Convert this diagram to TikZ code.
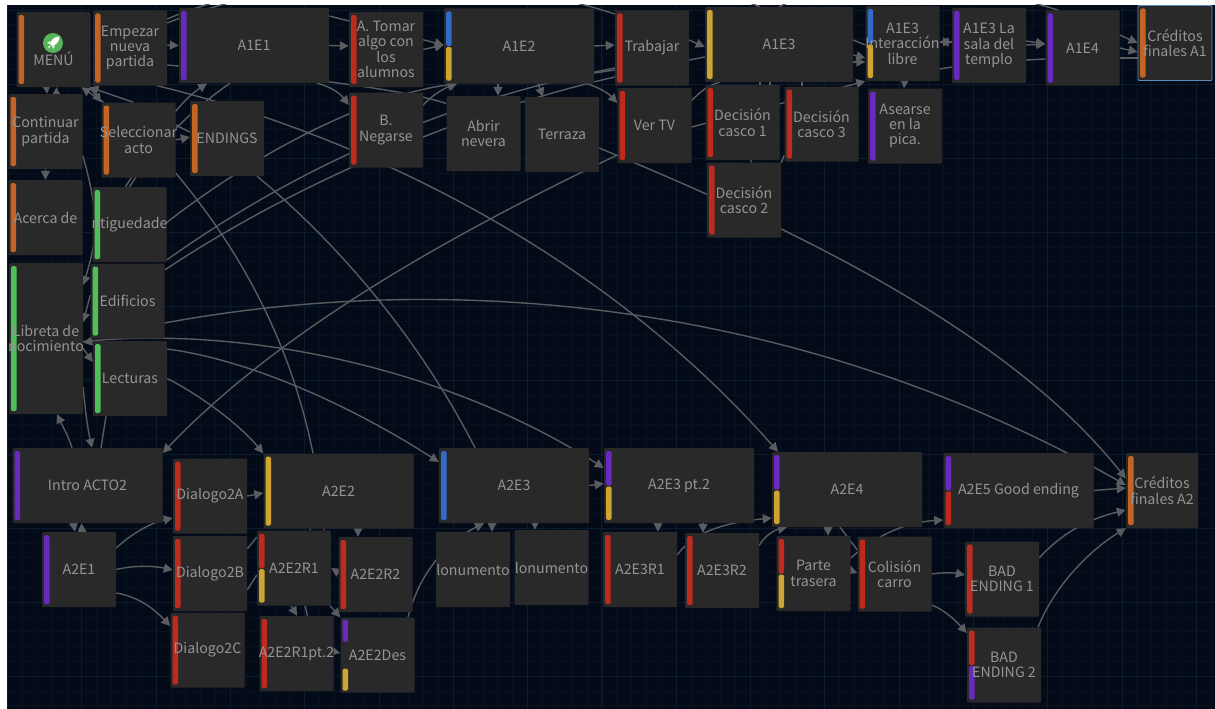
\documentclass[tikz,border=0pt]{standalone}
\usepackage{fontspec}
\setmainfont{Noto Sans CJK SC}
\usepackage{xcolor}
\usetikzlibrary{calc,arrows.meta}
\definecolor{canvasblue}{RGB}{3,11,24}
\definecolor{gridminor}{RGB}{7,17,32}
\definecolor{gridmajor}{RGB}{13,27,47}
\definecolor{boxgray}{RGB}{42,41,41}
\definecolor{labelgray}{RGB}{148,148,148}
\definecolor{edgegray}{RGB}{90,92,96}
\definecolor{myorange}{RGB}{196,100,34}
\definecolor{mypurple}{RGB}{104,42,190}
\definecolor{myred}{RGB}{190,42,30}
\definecolor{myyellow}{RGB}{205,165,48}
\definecolor{myblue}{RGB}{50,106,200}
\definecolor{mygreen}{RGB}{80,190,90}
\definecolor{iconspot}{RGB}{86,180,90}
\definecolor{selectblue}{RGB}{92,140,190}
\pgfdeclarelayer{gridlayer}
\pgfdeclarelayer{edgelayer}
\pgfsetlayers{gridlayer,edgelayer,main}
\newcommand{\ovr}[1]{\makebox[0pt][c]{#1}}
\tikzset{
  box/.style={rectangle, fill=boxgray, text=labelgray, rounded corners=1pt, inner sep=0pt,
    minimum width=74pt, minimum height=75pt, align=center, font=\fontsize{14.2}{15.4}\selectfont},
  wide/.style={box, minimum width=150pt},
  tall/.style={box, minimum height=151pt},
  onebar/.style={path picture={\fill[#1, rounded corners=1.5pt]
    ([xshift=2pt,yshift=-3pt]path picture bounding box.north west) rectangle
    ([xshift=7.5pt,yshift=3pt]path picture bounding box.south west);}},
  twobar/.style 2 args={path picture={
    \fill[#1, rounded corners=1.5pt]
      ([xshift=2pt,yshift=-3pt]path picture bounding box.north west) rectangle
      ([xshift=7.5pt]path picture bounding box.west);
    \fill[#2, rounded corners=1.5pt]
      ([xshift=2pt,yshift=-1pt]path picture bounding box.west) rectangle
      ([xshift=7.5pt,yshift=3pt]path picture bounding box.south west);}},
  gapbar/.style 2 args={path picture={
    \fill[#1, rounded corners=1.5pt]
      ([xshift=2pt,yshift=-2pt]path picture bounding box.north west) rectangle
      ([xshift=7.5pt,yshift=-24pt]path picture bounding box.north west);
    \fill[#2, rounded corners=1.5pt]
      ([xshift=2pt,yshift=24pt]path picture bounding box.south west) rectangle
      ([xshift=7.5pt,yshift=2pt]path picture bounding box.south west);}},
  link/.style={edgegray, line width=1.4pt},
  linktip/.style={link, -{Triangle[length=9pt,width=9pt]}},
}
\begin{document}
\begin{tikzpicture}[x=1pt,y=-1pt]
  \useasboundingbox (0,0) rectangle (1215,709);

  \begin{pgfonlayer}{gridlayer}
    \fill[white] (0,0) rectangle (1215,709);
    \fill[canvasblue] (7,5) rectangle (1215,709);
    \foreach \i in {0,...,81} \draw[gridminor,line width=.6pt] ({7.4+14.86*\i},5) -- ({7.4+14.86*\i},709);
    \foreach \i in {0,...,47} \draw[gridminor,line width=.6pt] (7,{10+14.8*\i}) -- (1215,{10+14.8*\i});
    \foreach \i in {0,5,...,80} \draw[gridmajor,line width=.8pt] ({7.4+14.86*\i},5) -- ({7.4+14.86*\i},709);
    \foreach \i in {0,5,...,45} \draw[gridmajor,line width=.8pt] (7,{10+14.8*\i}) -- (1215,{10+14.8*\i});
  \end{pgfonlayer}

  % Act 1, menu column
  \node[box, onebar=myorange] (menu) at (53.5,49.5) {\strut\\[3pt]MENÚ};
  \node[box, onebar=myorange] (empezar) at (130,48) {Empezar\\nueva\\partida};
  \node[box, onebar=myorange] (cont) at (45.5,131.5) {Continuar\\partida};
  \node[box, onebar=myorange] (selec) at (138.5,140) {\ovr{Seleccionar}\\acto};
  \node[box, onebar=myorange] (endings) at (227,138.5) {ENDINGS};
  \node[box, onebar=myorange] (acerca) at (45.5,217.5) {Acerca de};
  \node[box, onebar=mygreen] (antig) at (129.5,224.5) {\ovr{ntiguedade}};
  \node[tall, onebar=mygreen] (libreta) at (46,338.5) {Libreta de\\\ovr{nocimiento}};
  \node[box, onebar=mygreen] (edif) at (127.5,301) {Edificios};
  \node[box, onebar=mygreen] (lect) at (130,378.5) {Lecturas};

  % Act 1, scenes
  \node[wide, onebar=mypurple] (a1e1) at (254,45.5) {A1E1};
  \node[box, onebar=myred] (tomar) at (386,49.5) {A. Tomar\\algo con\\los\\alumnos};
  \node[box, onebar=myred] (negarse) at (386,130) {B.\\Negarse};
  \node[wide, twobar={myblue}{myyellow}] (a1e2) at (519,46) {A1E2};
  \node[box] (abrir) at (483.5,133.5) {Abrir\\nevera};
  \node[box] (terr) at (562,134.5) {Terraza};
  \node[box, onebar=myred] (trab) at (652,48) {Trabajar};
  \node[box, onebar=myred] (vertv) at (654.5,125.5) {Ver TV};
  \node[wide, minimum width=148pt, onebar=myyellow] (a1e3) at (779,44.5) {A1E3};
  \node[box, onebar=myred] (dec1) at (742.5,122.5) {Decisión\\casco 1};
  \node[box, onebar=myred] (dec3) at (821.5,124) {Decisión\\casco 3};
  \node[box, onebar=myred] (dec2) at (744,200) {Decisión\\casco 2};
  \node[box, twobar={myblue}{myyellow}] (inter) at (902.5,43.5) {A1E3\\\ovr{Interacción}\\libre};
  \node[box, onebar=mypurple] (asear) at (905,126) {Asearse\\en la\\pica.};
  \node[box, onebar=mypurple] (sala) at (989,45.5) {A1E3 La\\sala del\\templo};
  \node[box, onebar=mypurple] (a1e4) at (1082.5,48) {A1E4};
  \node[box, onebar=myorange, draw=selectblue, line width=.8pt] (cred1) at (1175,43) {Créditos\\\ovr{finales A1}};

  % Act 2, first rows
  \node[wide, onebar=mypurple] (intro) at (87.5,485.5) {Intro ACTO2};
  \node[box, onebar=mypurple] (a2e1) at (79,569.5) {A2E1};
  \node[box, onebar=myred] (dlg2a) at (210,496) {Dialogo2A};
  \node[box, onebar=myred] (dlg2b) at (210,573.5) {Dialogo2B};
  \node[box, onebar=myred] (dlg2c) at (207.5,650) {Dialogo2C};
  \node[wide, onebar=myyellow] (a2e2) at (338.5,491) {A2E2};
  \node[box, twobar={myred}{myyellow}] (r1) at (294,568) {A2E2R1};
  \node[box, onebar=myred] (r2) at (375.5,574.5) {A2E2R2};
  \node[box, onebar=myred] (r1pt) at (296.5,653.5) {\ovr{A2E2R1pt.2}};
  \node[box, gapbar={mypurple}{myyellow}] (des) at (377.5,655) {A2E2Des};
  \node[wide, onebar=myblue] (a2e3) at (514,485.5) {A2E3};
  \node[box] (mon1) at (473,569.5) {\ovr{lonumento}};
  \node[box] (mon2) at (551.5,567.5) {\ovr{lonumento}};
  \node[wide, twobar={mypurple}{myyellow}] (a2e3pt) at (679,485.5) {A2E3 pt.2};
  \node[box, onebar=myred] (a2e3r1) at (640,569.5) {A2E3R1};
  \node[box, onebar=myred] (a2e3r2) at (722,570.5) {A2E3R2};
  \node[wide, twobar={mypurple}{myyellow}] (a2e4) at (847,489.5) {A2E4};
  \node[box, twobar={myred}{myyellow}] (parte) at (813.5,573.5) {Parte\\trasera};
  \node[box, onebar=myred] (colis) at (894.5,574) {Colisión\\carro};
  \node[wide, twobar={mypurple}{myred}] (a2e5) at (1018.5,490.5) {A2E5 Good ending};
  \node[box, onebar=myred] (bad1) at (1002,579) {BAD\\ENDING 1};
  \node[box, twobar={myred}{mypurple}] (bad2) at (1004,665) {BAD\\ENDING 2};
  \node[box, minimum width=72pt, onebar=myorange] (cred2) at (1162,490.5) {Créditos\\\ovr{finales A2}};

  % Menu icon
  \node[circle, fill=iconspot, minimum size=20pt, inner sep=0pt] (rocket) at (53,43) {};
  \begin{scope}[shift={(rocket.center)}]
    \fill[white] (6.5,-6.5) .. controls (1,-6.5) and (-2,-3) .. (-3,1) -- (-1,3) .. controls (3,2) and (6.5,-1) .. cycle;
    \fill[white] (-2.5,-2) -- (-6,0) -- (-3.2,.8) -- cycle;
    \fill[white] (2,2.5) -- (0,6) -- (-.8,3.2) -- cycle;
    \fill[white] (-3.5,2.5) -- (-5.5,5.5) -- (-2.5,3.5) -- cycle;
  \end{scope}

  \begin{pgfonlayer}{edgelayer}
  \begin{scope}
    \clip (7,5) rectangle (1215,709);
    % Arcs over the top
    \draw[link] ([yshift=25pt]empezar.east) .. controls (300,-30) and (480,-30) .. ([yshift=34pt]trab.west);
    \draw[link] ([yshift=29pt]empezar.east) .. controls (330,-50) and (640,-40) .. ([xshift=-19pt]a1e3.north);
    \draw[link] (a1e3.north) .. controls (850,-30) and (980,-15) .. ([xshift=-24pt]a1e4.north);
    % Menu and neighbours
    \draw[linktip] ([yshift=3pt]empezar.east) -- (a1e1.west);
    \draw[link] ([yshift=-17pt]empezar.east) .. controls (280,75) and (400,88) .. ([yshift=30pt]abrir.west);
    \draw[linktip] ([xshift=-35pt]selec.north) -- ([xshift=28pt]menu.south);
    \draw[linktip] ([xshift=-5pt]selec.north) -- ([xshift=36pt]menu.south);
    \draw[linktip] ([xshift=36pt]menu.south) -- (selec.north west);
    \draw[linktip] ([xshift=-7pt]menu.south) -- ([xshift=1.5pt]cont.north);
    \draw[linktip] ([xshift=11pt]cont.north) -- ([xshift=3pt]menu.south);
    \draw[linktip] (cont.south) -- (acerca.north);
    \draw[linktip] (selec.east) -- ([yshift=1.5pt]endings.west);
    \draw[link] ([yshift=15pt]selec.east) -- ([yshift=6.5pt]endings.west);
    \draw[linktip] ([yshift=-24pt]cont.east) .. controls (100,215) and (97,240) .. ([yshift=53.5pt]libreta.east);
    \draw[linktip] ([yshift=6pt]edif.west) -- ([yshift=16.5pt]libreta.east);
    \draw[linktip] ([yshift=37.5pt]lect.west) -- ([yshift=-4pt]libreta.east);
    \draw[linktip] ([yshift=-10pt]libreta.east) -- ([yshift=16.5pt]lect.west);
    \draw[linktip] ([yshift=-48.5pt]libreta.east) .. controls (85,410) and (88,430) .. ([xshift=4.5pt]intro.north);
    \draw[link] ([xshift=-24pt]lect.south) -- ([xshift=13.5pt]intro.north);
    \draw[linktip] ([xshift=-15.5pt]intro.north) .. controls (68,435) and (62,425) .. ([xshift=11pt]libreta.south);
    % Act 1 chain
    \draw[linktip] ([yshift=29.5pt]a1e1.east) -- ([yshift=1pt]a1e2.west);
    \draw[linktip] (tomar.east) -- ([yshift=1pt]a1e2.west);
    \draw[linktip] (a1e1.east) -- ([yshift=3.5pt]tomar.west);
    \draw[linktip] ([xshift=63pt]a1e1.south) .. controls (335,88) and (342,96) .. ([yshift=25pt]negarse.west);
    \draw[linktip] ([xshift=-4pt]antig.north) .. controls (155,140) and (175,105) .. ([xshift=-47pt]a1e1.south);
    \draw[link] (antig.north) .. controls (150,155) and (180,118) .. ([xshift=-24pt]a1e1.south);
    \draw[linktip] ([yshift=25pt]negarse.east) .. controls (432,95) and (445,88) .. ([xshift=-62pt]a1e2.south);
    \draw[linktip] (a1e2.east) -- ([yshift=3pt]trab.west);
    \draw[link] ([yshift=-27pt]a1e2.east) -- ([yshift=-22pt]trab.west);
    \draw[linktip] ([xshift=68pt]a1e2.south) .. controls (600,88) and (608,93) .. ([yshift=22.5pt]vertv.west);
    \draw[linktip] ([xshift=-21pt]a1e2.south) -- ([xshift=14.5pt]abrir.north);
    \draw[linktip] ([xshift=19pt]a1e2.south) -- ([xshift=-19pt]terr.north);
    \draw[linktip] ([yshift=8pt]trab.east) -- ([yshift=-2.5pt]a1e3.west);
    \draw[link] ([yshift=-12pt]trab.east) -- ([yshift=-12.5pt]a1e3.west);
    \draw[link] ([yshift=25pt]vertv.east) .. controls (700,92) and (708,85) .. ([xshift=-59pt]a1e3.south);
    \draw[linktip] ([yshift=-1.5pt]vertv.east) -- (inter.south west);
    \draw[link] ([xshift=-19pt]a1e3.south) -- ([xshift=17.5pt]dec1.north);
    \draw[link] ([xshift=-9pt]a1e3.south) -- ([xshift=27.5pt]dec1.north);
    \draw[link] ([xshift=23pt]a1e3.south) -- ([xshift=-19.5pt]dec3.north);
    \draw[link] ([xshift=8pt]dec1.south) -- ([xshift=8pt]dec2.north);
    \draw[link] ([yshift=37pt]dec2.east) -- ([yshift=-31pt]dec3.west);
    \draw[link] ([yshift=4.5pt]a1e3.east) -- ([yshift=-1.5pt]inter.west);
    \draw[linktip] ([yshift=-10.5pt]a1e3.east) -- ([yshift=-14.5pt]inter.west);
    \draw[linktip] ([yshift=-17.5pt]a1e3.east) -- ([yshift=-18.5pt]inter.west);
    \draw[linktip] ([yshift=1.5pt]inter.east) -- ([yshift=3.5pt]sala.west);
    \draw[linktip] ([yshift=3.5pt]sala.west) -- ([yshift=1.5pt]inter.east);
    \draw[link] ([yshift=-25.5pt]inter.east) -- ([yshift=-21.5pt]sala.west);
    \draw[linktip] ([xshift=2pt]inter.south) -- ([xshift=-1pt]asear.north);
    \draw[linktip] ([yshift=4.5pt]sala.east) -- ([yshift=4pt]a1e4.west);
    \draw[linktip] ([yshift=.5pt]sala.east) -- ([yshift=4pt]a1e4.west);
    \draw[link] ([yshift=-14.5pt]sala.east) -- ([yshift=-11pt]a1e4.west);
    \draw[linktip] ([yshift=13pt]a1e4.east) -- (cred1.west);
    \draw[linktip] (a1e4.east) -- ([yshift=-9pt]cred1.west);
    \draw[link] ([yshift=-10pt]a1e4.east) -- ([yshift=-15pt]cred1.west);
    % Long rising lines
    \draw[linktip] ([yshift=2pt]antig.east) .. controls (260,150) and (370,95) .. ([xshift=-62pt]a1e2.south);
    \draw[link] ([yshift=-35.5pt]antig.east) .. controls (300,165) and (450,100) .. ([yshift=-20pt]trab.west);
    \draw[link] ([yshift=31pt]edif.east) .. controls (300,180) and (470,110) .. ([yshift=-29pt]trab.west);
    \draw[linktip] ([yshift=-29.5pt]vertv.west) .. controls (450,235) and (280,330) .. ([yshift=32.5pt]intro.east);
    % Long falling lines
    \draw[linktip] ([xshift=27pt]empezar.south) .. controls (360,135) and (600,250) .. ([xshift=-69pt]a2e4.north);
    \draw[linktip] ([yshift=-13.5pt]terr.east) .. controls (760,215) and (1000,320) .. ([yshift=12pt]cred2.west);
    \draw[link] ([yshift=-33pt]selec.east) .. controls (240,250) and (290,340) .. ([xshift=-25.5pt]a2e2.north);
    \draw[link] ([xshift=30pt]endings.south) .. controls (340,245) and (420,340) .. ([xshift=-39pt]a2e3.north);
    \draw[linktip] ([yshift=-22pt]edif.east) .. controls (450,270) and (800,300) .. ([yshift=5.5pt]cred2.west);
    \draw[linktip] ([yshift=-3pt]libreta.east) .. controls (250,325) and (450,370) .. ([yshift=17.5pt]a2e3pt.west);
    \draw[linktip] ([yshift=29.5pt]lect.east) .. controls (250,360) and (350,405) .. ([yshift=23.5pt]a2e3.west);
    \draw[linktip] (lect.east) .. controls (200,395) and (240,425) .. (a2e2.north west);
    % Act 2 chain
    \draw[linktip] ([xshift=-14pt]intro.south) -- ([xshift=-4pt]a2e1.north);
    \draw[linktip] ([xshift=3pt]a2e1.north) -- ([xshift=-6pt]intro.south);
    \draw[linktip] ([yshift=21.5pt]a2e1.east) .. controls (130,535) and (150,523) .. ([yshift=-22pt]dlg2a.west);
    \draw[linktip] (a2e1.east) .. controls (135,565) and (155,566) .. ([yshift=3.5pt]dlg2b.west);
    \draw[linktip] ([yshift=-23.5pt]a2e1.east) .. controls (140,597) and (155,610) .. ([yshift=24pt]dlg2c.west);
    \draw[linktip] (dlg2a.east) -- ([yshift=-2pt]a2e2.west);
    \draw[link] ([yshift=24.5pt]dlg2b.east) -- ([yshift=31pt]r1.west);
    \draw[link] ([yshift=-16.5pt]dlg2b.east) -- ([yshift=-7pt]r1.west);
    \draw[linktip] ([xshift=19.5pt]a2e2.south) -- ([xshift=-17.5pt]r2.north);
    \draw[link] ([xshift=-28pt]a2e2.south) -- ([xshift=16pt]r1.north);
    \draw[link] ([xshift=-14pt]a2e2.south) -- ([xshift=30pt]r1.north);
    \draw[linktip] ([yshift=2pt]r2.west) -- (r1.east);
    \draw[linktip] ([xshift=-3pt]r1.south) -- ([xshift=.5pt]r1pt.north);
    \draw[link] ([xshift=11pt]r1.south) -- ([xshift=11pt]r1pt.north);
    \draw[linktip] ([xshift=36pt]r1.south) -- (des.north west);
    \draw[linktip] ([yshift=2pt]r1pt.east) -- ([yshift=2pt]des.west);
    \draw[linktip] ([xshift=30.5pt]des.north) .. controls (420,570) and (450,540) .. ([xshift=-30pt]a2e3.south);
    \draw[linktip] ([xshift=-22pt]a2e3.south) -- ([xshift=19pt]mon1.north);
    \draw[linktip] ([xshift=21pt]a2e3.south) -- ([xshift=-16.5pt]mon2.north);
    \draw[linktip] (a2e3.east) -- ([yshift=2pt]a2e3pt.west);
    \draw[linktip] ([xshift=-21pt]a2e3pt.south) -- ([xshift=18pt]a2e3r1.north);
    \draw[linktip] ([xshift=24pt]a2e3pt.south) -- ([xshift=-19pt]a2e3r2.north);
    \draw[linktip] ([yshift=14.5pt]a2e3r1.east) .. controls (695,530) and (730,522) .. ([yshift=-28.5pt]a2e4.west);
    \draw[linktip] ([yshift=25pt]a2e3r2.east) .. controls (765,535) and (775,530) .. ([xshift=-60pt]a2e4.south);
    \draw[linktip] ([xshift=-19pt]a2e4.south) -- ([xshift=14.5pt]parte.north);
    \draw[link] ([xshift=-7pt]a2e4.south) -- ([yshift=24pt]colis.west);
    \draw[linktip] ([yshift=3pt]parte.east) -- ([yshift=1pt]colis.west);
    \draw[linktip] ([yshift=15.5pt]parte.east) .. controls (880,532) and (910,522) .. ([yshift=-29.5pt]a2e5.west);
    \draw[linktip] (colis.east) .. controls (945,572) and (955,573) .. ([yshift=4pt]bad1.west);
    \draw[linktip] ([yshift=-31pt]colis.east) .. controls (945,610) and (957,622) .. ([yshift=32pt]bad2.west);
    \draw[linktip] (a2e5.east) -- ([yshift=2.5pt]cred2.west);
    \draw[linktip] ([yshift=21pt]bad1.east) .. controls (1060,535) and (1085,520) .. ([yshift=-19.5pt]cred2.west);
    \draw[linktip] ([xshift=34pt]bad2.north) .. controls (1055,585) and (1090,550) .. (cred2.south west);
  \end{scope}
  \end{pgfonlayer}
\end{tikzpicture}
\end{document}
